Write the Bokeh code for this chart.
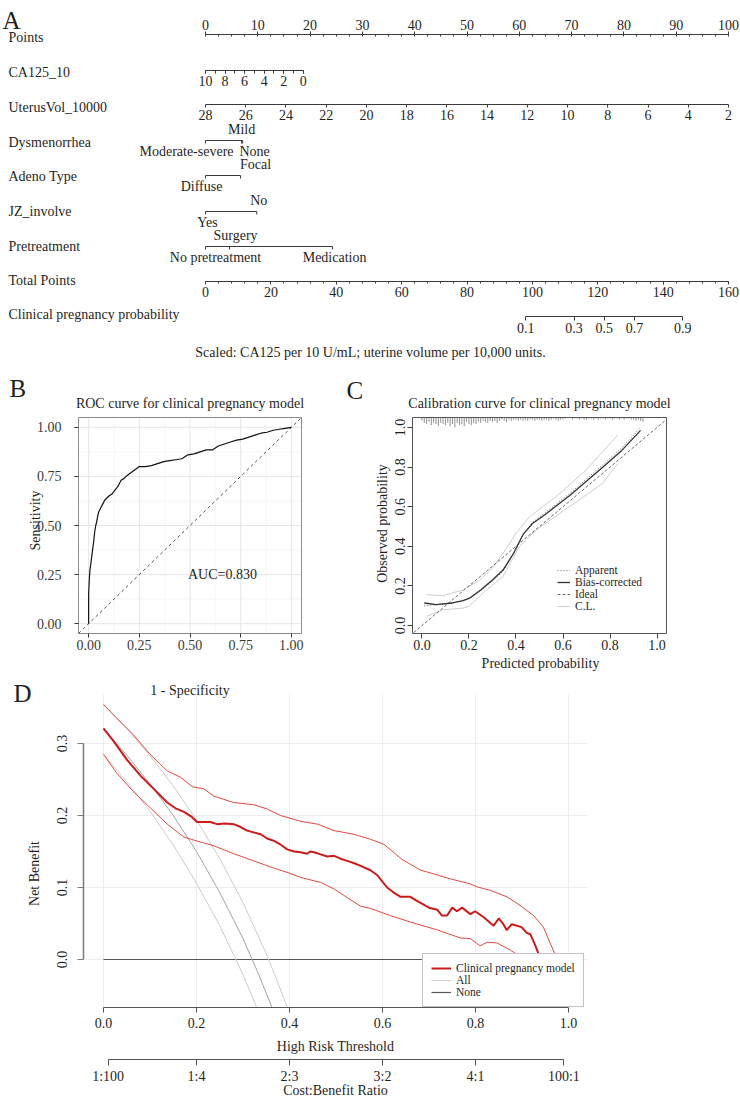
import math
from bokeh.plotting import figure
from bokeh.models import (Range1d, LinearAxis, FixedTicker, CustomJSTickFormatter,
                          NumeralTickFormatter, Legend, LegendItem)
from bokeh.core.properties import value
from bokeh.embed import file_html
from bokeh.resources import INLINE

W, H = 740, 1098
SERIF = "Liberation Serif"
INK = "#1f1f1f"

# ---------------- nomogram (panel A) ----------------
points_ticks = list(range(0, 101, 10))
points_minor = [i * 2.5 for i in range(41)]
ca125_values = [0, 2, 4, 6, 8, 10]
ca125_minor = list(range(11))
ca125_max_points = 18.7            # points given to CA125_10 = 0
uterus_values = list(range(2, 29, 2))
dysm_levels = ["Moderate-severe", "Mild", "None"]
dysm_points = [0.0, 6.9, 7.1]
adeno_levels = ["Diffuse", "Focal"]
adeno_points = [0.0, 6.7]
jz_levels = ["Yes", "No"]
jz_points = [0.0, 9.8]
pretreat_levels = ["No pretreatment", "Surgery", "Medication"]
pretreat_points = [0.0, 4.6, 24.3]
total_ticks = list(range(0, 161, 20))
total_minor = list(range(0, 161, 4))
prob_values = [0.1, 0.3, 0.5, 0.7, 0.9]
total_at_half = 122.0              # total points where probability = 0.5
total_per_logit = 10.93            # total points per unit of linear predictor

# ---------------- ROC (panel B) ----------------
roc_fpr = [0, 0, 0.003, 0.006, 0.01, 0.015, 0.02, 0.025, 0.03, 0.035, 0.04, 0.045, 0.05,
           0.06, 0.07, 0.08, 0.09, 0.10, 0.115, 0.13, 0.145, 0.16, 0.175, 0.19, 0.21,
           0.23, 0.25, 0.28, 0.31, 0.34, 0.37, 0.40, 0.43, 0.46, 0.49, 0.52, 0.55, 0.58,
           0.61, 0.64, 0.67, 0.70, 0.73, 0.76, 0.79, 0.82, 0.85, 0.88, 0.91, 0.94, 0.97, 1.0]
roc_tpr = [0, 0.15, 0.22, 0.27, 0.30, 0.34, 0.38, 0.42, 0.47, 0.50, 0.52, 0.55, 0.57,
           0.59, 0.61, 0.63, 0.64, 0.65, 0.66, 0.68, 0.70, 0.73, 0.74, 0.755, 0.77,
           0.785, 0.80, 0.80, 0.805, 0.815, 0.825, 0.83, 0.835, 0.84, 0.86, 0.865, 0.875,
           0.885, 0.885, 0.905, 0.915, 0.925, 0.935, 0.94, 0.95, 0.96, 0.97, 0.975, 0.985,
           0.99, 0.995, 1.0]
auc_text = "AUC=0.830"

# ---------------- calibration (panel C) ----------------
cal_x = [0.01, 0.06, 0.13, 0.175, 0.205, 0.25, 0.30, 0.345, 0.39, 0.43, 0.47, 0.53,
         0.63, 0.77, 0.85, 0.93]
cal_apparent = [0.10, 0.105, 0.115, 0.125, 0.137, 0.175, 0.225, 0.275, 0.36, 0.455,
                0.52, 0.575, 0.668, 0.812, 0.897, 1.0]
cal_bias_corrected = [0.114, 0.106, 0.114, 0.126, 0.14, 0.18, 0.23, 0.28, 0.365, 0.46,
                      0.515, 0.566, 0.658, 0.80, 0.884, 0.985]
cl_upper_x = [0.02, 0.09, 0.175, 0.246, 0.30, 0.345, 0.40, 0.458, 0.57, 0.697, 0.832]
cl_upper_y = [0.156, 0.151, 0.18, 0.23, 0.29, 0.365, 0.465, 0.55, 0.65, 0.784, 0.96]
cl_lower_x = [0.02, 0.09, 0.175, 0.20, 0.26, 0.345, 0.415, 0.486, 0.627, 0.768, 0.832]
cl_lower_y = [0.047, 0.08, 0.088, 0.097, 0.164, 0.248, 0.40, 0.483, 0.60, 0.717, 0.817]
rug_bins = [i / 100 for i in range(95)]
rug_counts = [3, 5, 6, 4, 7, 5, 6, 8, 5, 6,
              7, 5, 8, 6, 9, 5, 7, 6, 8, 4,
              6, 7, 5, 6, 4, 5, 3, 4, 5, 3,
              4, 3, 5, 3, 2, 3, 4, 2, 3, 2,
              2, 3, 2, 3, 2, 3, 2, 2, 3, 2,
              2, 3, 2, 2, 3, 2, 1, 2, 3, 2,
              2, 1, 0, 0, 2, 1, 1, 2, 1, 2,
              2, 1, 1, 2, 1, 2, 1, 1, 2, 1,
              1, 2, 1, 1, 2, 1, 2, 1, 1, 2,
              2, 3, 2, 3, 4]

# ---------------- decision curve (panel D) ----------------
model_nb = [(0.000, 0.321), (0.022, 0.303), (0.051, 0.277), (0.080, 0.255), (0.108, 0.237),
            (0.137, 0.218), (0.155, 0.210), (0.173, 0.205), (0.190, 0.198), (0.201, 0.191),
            (0.230, 0.191), (0.244, 0.188), (0.260, 0.189), (0.280, 0.188), (0.295, 0.184),
            (0.309, 0.179), (0.338, 0.174), (0.352, 0.168), (0.366, 0.165), (0.380, 0.160),
            (0.395, 0.153), (0.410, 0.150), (0.424, 0.149), (0.438, 0.147), (0.445, 0.150),
            (0.453, 0.149), (0.467, 0.146), (0.481, 0.143), (0.496, 0.144), (0.510, 0.140),
            (0.524, 0.137), (0.538, 0.134), (0.553, 0.130), (0.574, 0.124), (0.589, 0.117),
            (0.610, 0.100), (0.624, 0.093), (0.639, 0.087), (0.660, 0.087), (0.675, 0.081),
            (0.700, 0.072), (0.718, 0.069), (0.728, 0.061), (0.739, 0.061), (0.750, 0.072),
            (0.760, 0.067), (0.771, 0.072), (0.789, 0.063), (0.799, 0.067), (0.817, 0.059),
            (0.839, 0.047), (0.850, 0.057), (0.860, 0.049), (0.867, 0.041), (0.878, 0.049),
            (0.899, 0.045), (0.910, 0.037), (0.918, 0.035), (0.927, 0.022), (0.938, 0.004),
            (0.943, 0.000)]
model_nb_upper = [(0.000, 0.354), (0.027, 0.336), (0.063, 0.313), (0.100, 0.285), (0.137, 0.262),
                  (0.166, 0.253), (0.191, 0.240), (0.216, 0.237), (0.237, 0.227), (0.280, 0.218),
                  (0.323, 0.215), (0.352, 0.209), (0.381, 0.200), (0.424, 0.192), (0.460, 0.188),
                  (0.496, 0.179), (0.538, 0.174), (0.574, 0.167), (0.603, 0.160), (0.642, 0.139),
                  (0.682, 0.124), (0.710, 0.119), (0.746, 0.112), (0.789, 0.105), (0.803, 0.101),
                  (0.832, 0.096), (0.868, 0.087), (0.896, 0.075), (0.925, 0.061), (0.946, 0.045),
                  (0.961, 0.022), (0.976, 0.000)]
model_nb_lower = [(0.000, 0.285), (0.027, 0.260), (0.063, 0.234), (0.100, 0.211), (0.137, 0.188),
                  (0.173, 0.170), (0.209, 0.163), (0.237, 0.158), (0.280, 0.147), (0.323, 0.137),
                  (0.366, 0.127), (0.395, 0.121), (0.424, 0.114), (0.467, 0.107), (0.496, 0.098),
                  (0.524, 0.086), (0.553, 0.074), (0.574, 0.071), (0.617, 0.061), (0.660, 0.052),
                  (0.718, 0.041), (0.767, 0.030), (0.789, 0.029), (0.810, 0.019), (0.825, 0.024),
                  (0.846, 0.023), (0.875, 0.013), (0.892, 0.006), (0.905, 0.000)]
all_nb = [(0.00, 0.320), (0.05, 0.284), (0.10, 0.244), (0.15, 0.200), (0.20, 0.150),
          (0.25, 0.093), (0.30, 0.029), (0.33, -0.015), (0.362, -0.066)]
all_nb_upper = [(0.00, 0.355), (0.05, 0.321), (0.10, 0.283), (0.15, 0.241), (0.20, 0.194),
                (0.25, 0.140), (0.30, 0.079), (0.35, 0.008), (0.37, -0.024), (0.395, -0.066)]
all_nb_lower = [(0.00, 0.285), (0.05, 0.247), (0.10, 0.206), (0.15, 0.159), (0.20, 0.106),
                (0.25, 0.047), (0.30, -0.021), (0.329, -0.066)]
threshold_ticks = [0.0, 0.2, 0.4, 0.6, 0.8, 1.0]
nb_ticks = [0.0, 0.1, 0.2, 0.3]
cb_thresholds = [1 / 101, 0.2, 0.4, 0.6, 0.8, 100 / 101]
cb_labels = ["1:100", "1:4", "2:3", "3:2", "4:1", "100:1"]

# ---------------- canvas ----------------
p = figure(width=W, height=H, x_range=Range1d(0, W), y_range=Range1d(H, 0),
           output_backend="svg", toolbar_location=None, min_border=0,
           x_axis_location=None, y_axis_location=None)
p.outline_line_color = None
p.grid.visible = False
p.background_fill_color = "white"
p.border_fill_color = "white"


def xr(v0, px0, v1, px1):
    k = (v1 - v0) / (px1 - px0)
    return Range1d(start=v0 - px0 * k, end=v0 + (W - px0) * k)


def yr(v0, py0, v1, py1):
    k = (v1 - v0) / (py1 - py0)
    return Range1d(start=v0 + (H - py0) * k, end=v0 - py0 * k)


PX0, PX100 = 205, 728


def pts_px(v):
    return PX0 + v * (PX100 - PX0) / 100.0


p.extra_x_ranges = {
    "pts": xr(0, PX0, 100, PX100),
    "ca": xr(10, pts_px(0), 0, pts_px(ca125_max_points)),
    "ut": xr(max(uterus_values), PX0, min(uterus_values), PX100),
    "tot": xr(0, PX0, 160, PX100),
    "bx": xr(-0.05, 78, 1.05, 301),
    "cx": xr(-0.04, 412, 1.04, 666),
    "dx": xr(0.0, 103, 1.0, 568),
}
p.extra_y_ranges = {
    "by": yr(-0.05, 633, 1.05, 417),
    "cy": yr(-0.04, 633, 1.05, 417),
    "dy": yr(0.0, 959, 0.3, 743),
}


def txt(x, y, s, size="14px", align="left", baseline="middle", angle=0.0,
        color=INK, xn="default", yn="default", dx=0):
    p.text(x=[x], y=[y], text=[s], text_font=value(SERIF), text_font_size=size,
           text_align=align, text_baseline=baseline, angle=angle, text_color=color,
           x_range_name=xn, y_range_name=yn, x_offset=dx)


def axis(dim, rng, loc, side, ticks, minor=(), bounds=None, fmt=None, size="14px",
         out=3, tin=0, mout=0, mtin=0, standoff=2, line="#333333", lw=1.0,
         tick="#333333", orient="horizontal", label_color=INK):
    kw = dict(fixed_location=loc,
              ticker=FixedTicker(ticks=list(ticks), minor_ticks=list(minor)))
    if dim == "x":
        ax = LinearAxis(x_range_name=rng, **kw)
    else:
        ax = LinearAxis(y_range_name=rng, **kw)
    if bounds is not None:
        ax.bounds = bounds
    if fmt is not None:
        ax.formatter = fmt
    ax.axis_line_color = line
    ax.axis_line_width = lw
    ax.major_tick_line_color = tick
    ax.minor_tick_line_color = tick
    ax.major_tick_out = out
    ax.major_tick_in = tin
    ax.minor_tick_out = mout
    ax.minor_tick_in = mtin
    ax.major_label_standoff = standoff
    ax.major_label_text_font = SERIF
    ax.major_label_text_font_size = size
    ax.major_label_text_color = label_color
    ax.major_label_orientation = orient
    p.add_layout(ax, side)
    return ax


def lookup_formatter(positions, labels):
    return CustomJSTickFormatter(args=dict(pos=list(positions), lab=list(labels)), code="""
        let best = 0, d = Infinity;
        for (let i = 0; i < pos.length; i++) {
            const e = Math.abs(pos[i] - tick);
            if (e < d) { d = e; best = i; }
        }
        return lab[best];
    """)


# ================= A: nomogram =================
txt(2, 20, "A", size="25px", baseline="alphabetic")

row_names = ["Points", "CA125_10", "UterusVol_10000", "Dysmenorrhea", "Adeno Type",
             "JZ_involve", "Pretreatment", "Total Points", "Clinical pregnancy probability"]
row_y = [37, 72, 107, 142, 176, 211, 246, 280, 314]
for name, y in zip(row_names, row_y):
    txt(8, y, name)

NOMO_LINE = "#3a3a3a"
axis("x", "pts", 34, "above", points_ticks, points_minor, bounds=(0, 100),
     out=3, mtin=2, standoff=2, line=NOMO_LINE, tick=NOMO_LINE)
axis("x", "ca", 70, "below", ca125_values, ca125_minor, bounds=(0, 10),
     out=3, mout=3, standoff=2, line=NOMO_LINE, tick=NOMO_LINE)
axis("x", "ut", 104, "below", uterus_values, bounds=(min(uterus_values), max(uterus_values)),
     out=3, standoff=2, line=NOMO_LINE, tick=NOMO_LINE)
axis("x", "tot", 281, "below", total_ticks, total_minor, bounds=(0, 160),
     out=3, mout=2, standoff=2, line=NOMO_LINE, tick=NOMO_LINE)

prob_pos = [total_at_half + math.log(v / (1 - v)) * total_per_logit for v in prob_values]
axis("x", "tot", 316, "below", prob_pos, bounds=(prob_pos[0], prob_pos[-1]),
     fmt=lookup_formatter(prob_pos, [f"{v:.1f}" for v in prob_values]),
     out=4, standoff=2, line=NOMO_LINE, tick=NOMO_LINE)

# categorical predictors: line with a tick per level, labels above/below
cat_rows = [
    (140, dysm_levels, dysm_points, [-19, 0, 12], [1, -1, 1]),
    (175, adeno_levels, adeno_points, [-4, 15], [1, -1]),
    (211, jz_levels, jz_points, [2, 2], [1, -1]),
    (246, pretreat_levels, pretreat_points, [10, 6, 2], [1, -1, 1]),
]
for y, levels, pts, offs, sides in cat_rows:
    p.segment(x0=[min(pts)], y0=[y], x1=[max(pts)], y1=[y], x_range_name="pts",
              line_color=NOMO_LINE, line_width=1)
    p.segment(x0=pts, y0=[y] * len(pts), x1=pts, y1=[y + 3] * len(pts),
              x_range_name="pts", line_color=NOMO_LINE, line_width=1)
    for lab, v, o, s in zip(levels, pts, offs, sides):
        txt(v, y + 11 * s, lab, align="center", xn="pts", dx=o)

txt(370, 352, "Scaled: CA125 per 10 U/mL; uterine volume per 10,000 units.", align="center")

# ================= B: ROC curve =================
txt(9, 388, "B", size="25px", baseline="alphabetic")
txt(189.5, 403, "ROC curve for clinical pregnancy model", align="center")

b_major = [0, 0.25, 0.5, 0.75, 1.0]
b_minor = [0.125, 0.375, 0.625, 0.875]
for g, col, w in ((b_minor, "#f3f3f3", 0.7), (b_major, "#e6e6e6", 1.0)):
    p.segment(x0=g, y0=[-0.05] * len(g), x1=g, y1=[1.05] * len(g),
              x_range_name="bx", y_range_name="by", line_color=col, line_width=w)
    p.segment(x0=[-0.05] * len(g), y0=g, x1=[1.05] * len(g), y1=g,
              x_range_name="bx", y_range_name="by", line_color=col, line_width=w)
p.line(x=[-0.05, 1.05], y=[-0.05, 1.05], x_range_name="bx", y_range_name="by",
       line_color="#222222", line_width=0.8, line_dash="3 3")
p.line(x=roc_fpr, y=roc_tpr, x_range_name="bx", y_range_name="by",
       line_color="#111111", line_width=1.2)
p.quad(left=[-0.05], right=[1.05], bottom=[-0.05], top=[1.05], x_range_name="bx",
       y_range_name="by", fill_color=None, line_color="#8c8c8c", line_width=1)
txt(0.66, 0.25, auc_text, align="center", xn="bx", yn="by")

axis("x", "bx", 633, "below", b_major, bounds=(-0.05, 1.05), fmt=NumeralTickFormatter(format="0.00"),
     out=4, standoff=2, line=None, tick="#333333", label_color="#3a3a3a")
axis("y", "by", 78, "left", b_major, bounds=(-0.05, 1.05), fmt=NumeralTickFormatter(format="0.00"),
     out=4, standoff=13, line=None, tick="#333333", label_color="#3a3a3a")
txt(35, 520, "Sensitivity", align="center", angle=math.pi / 2)
txt(189.5, 690, "1 - Specificity", align="center")

# ================= C: calibration =================
txt(346, 390, "C", size="25px", baseline="alphabetic")
txt(539, 403, "Calibration curve for clinical pregnancy model", align="center")

rug_top = 1.05
p.segment(x0=rug_bins, y0=[rug_top] * len(rug_bins), x1=rug_bins,
          y1=[rug_top - c * 0.0055 for c in rug_counts], x_range_name="cx", y_range_name="cy",
          line_color="#8f8f8f", line_width=1)
r_cl = p.line(x=cl_upper_x, y=cl_upper_y, x_range_name="cx", y_range_name="cy",
              line_color="#cfcfcf", line_width=1)
p.line(x=cl_lower_x, y=cl_lower_y, x_range_name="cx", y_range_name="cy",
       line_color="#cfcfcf", line_width=1)
r_ideal = p.line(x=[-0.035, 1.034], y=[-0.035, 1.034], x_range_name="cx", y_range_name="cy",
                 line_color="#444444", line_width=0.8, line_dash="3 2")
r_app = p.line(x=cal_x, y=cal_apparent, x_range_name="cx", y_range_name="cy",
               line_color="#6a6a6a", line_width=1, line_dash="1 2")
r_bias = p.line(x=cal_x, y=cal_bias_corrected, x_range_name="cx", y_range_name="cy",
                line_color="#333333", line_width=1.3)
p.quad(left=[-0.04], right=[1.04], bottom=[-0.04], top=[1.05], x_range_name="cx",
       y_range_name="cy", fill_color=None, line_color="#555555", line_width=1)

c_ticks = [0.0, 0.2, 0.4, 0.6, 0.8, 1.0]
axis("x", "cx", 633, "below", c_ticks, bounds=(0, 1), fmt=NumeralTickFormatter(format="0.0"),
     out=5, standoff=1, line=None, tick="#444444")
axis("y", "cy", 412, "left", c_ticks, bounds=(0, 1), fmt=NumeralTickFormatter(format="0.0"),
     out=5, standoff=2, line=None, tick="#444444", orient="vertical")
txt(382, 523, "Observed probability", align="center", angle=math.pi / 2)
txt(540, 663, "Predicted probability", align="center")

leg_c = Legend(items=[LegendItem(label="Apparent", renderers=[r_app]),
                      LegendItem(label="Bias-corrected", renderers=[r_bias]),
                      LegendItem(label="Ideal", renderers=[r_ideal]),
                      LegendItem(label="C.L.", renderers=[r_cl])],
               location=(557, 486), padding=0, spacing=0, margin=0,
               glyph_width=13, glyph_height=12, label_height=12, label_standoff=5,
               label_text_font=SERIF, label_text_font_size="11.5px", label_text_color=INK,
               border_line_color=None, background_fill_alpha=0)
p.add_layout(leg_c)

# ================= D: decision curve =================
txt(13, 693, "D", size="25px", baseline="alphabetic")

p.segment(x0=threshold_ticks, y0=[-0.066] * 6, x1=threshold_ticks, y1=[0.368] * 6,
          x_range_name="dx", y_range_name="dy", line_color="#ececec", line_width=1)
p.segment(x0=[-0.043] * 4, y0=nb_ticks, x1=[1.04] * 4, y1=nb_ticks,
          x_range_name="dx", y_range_name="dy", line_color="#ececec", line_width=1)

r_none = p.line(x=[0.0, 1.0], y=[0.0, 0.0], x_range_name="dx", y_range_name="dy",
                line_color="#555555", line_width=1.2)
r_all_hi = p.line(x=[t for t, _ in all_nb_upper], y=[v for _, v in all_nb_upper],
                  x_range_name="dx", y_range_name="dy", line_color="#cccccc", line_width=1)
p.line(x=[t for t, _ in all_nb_lower], y=[v for _, v in all_nb_lower],
       x_range_name="dx", y_range_name="dy", line_color="#cccccc", line_width=1)
p.line(x=[t for t, _ in all_nb], y=[v for _, v in all_nb],
       x_range_name="dx", y_range_name="dy", line_color="#a3a3a3", line_width=1)
for band in (model_nb_upper, model_nb_lower):
    p.line(x=[t for t, _ in band], y=[v for _, v in band], x_range_name="dx",
           y_range_name="dy", line_color="#e2483f", line_width=1)
r_model = p.line(x=[t for t, _ in model_nb], y=[v for _, v in model_nb], x_range_name="dx",
                 y_range_name="dy", line_color="#cc1a1a", line_width=2)

axis("x", "dx", 1007, "below", threshold_ticks, bounds=(0, 1),
     fmt=NumeralTickFormatter(format="0.0"), out=5, standoff=5, line="#555555",
     tick="#555555")
axis("x", "dx", 1059, "below", cb_thresholds, bounds=(cb_thresholds[0], cb_thresholds[-1]),
     fmt=lookup_formatter(cb_thresholds, cb_labels), out=6, standoff=3, line="#555555",
     tick="#555555")
axis("y", "dy", 83, "left", nb_ticks, bounds=(0, 0.3), fmt=NumeralTickFormatter(format="0.0"),
     out=6, standoff=11, line="#7a7a7a", lw=1.5, tick="#7a7a7a", orient="vertical")
txt(34, 873, "Net Benefit", align="center", angle=math.pi / 2)
txt(335, 1046, "High Risk Threshold", align="center")
txt(335, 1090, "Cost:Benefit Ratio", align="center")

leg_d = Legend(items=[LegendItem(label="Clinical pregnancy model", renderers=[r_model]),
                      LegendItem(label="All", renderers=[r_all_hi]),
                      LegendItem(label="None", renderers=[r_none])],
               location=(422, 91), padding=8, spacing=0, margin=0,
               glyph_width=20, glyph_height=12, label_height=12, label_standoff=5,
               label_text_font=SERIF, label_text_font_size="11.5px", label_text_color=INK,
               border_line_color="#8a8a8a", border_line_width=1,
               background_fill_color="white", background_fill_alpha=1)
p.add_layout(leg_d)

open("out.html", "w").write(file_html(p, INLINE))
